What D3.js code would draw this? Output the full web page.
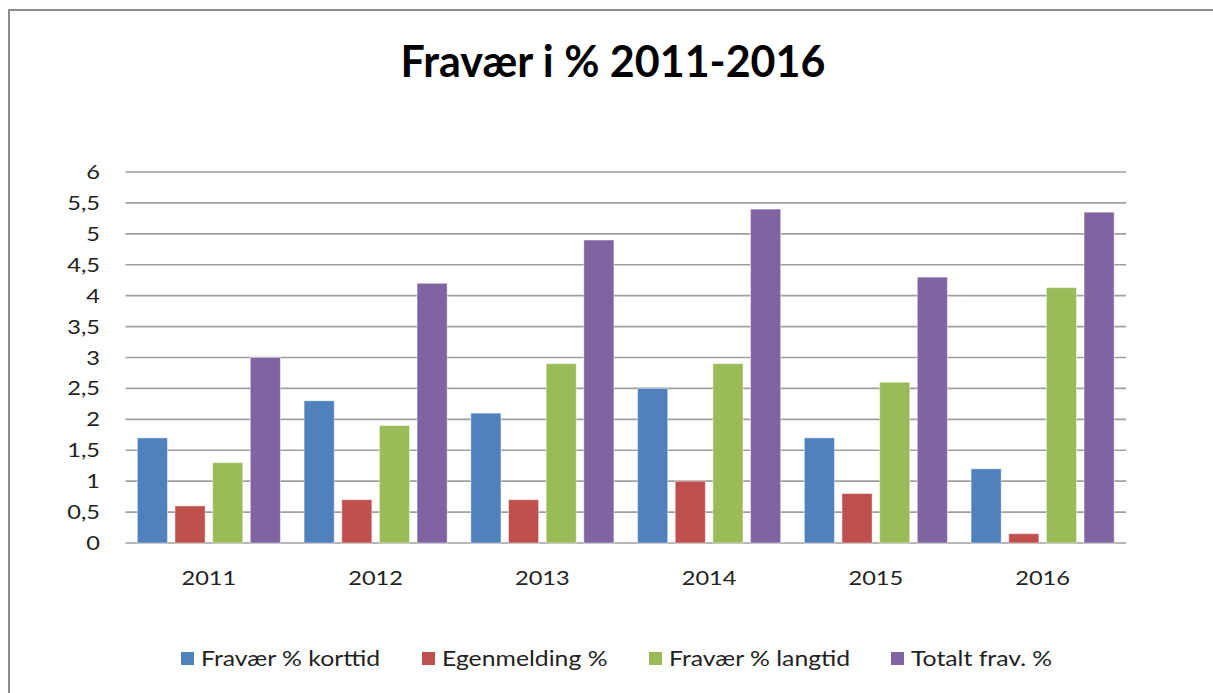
<!DOCTYPE html>
<html>
<head>
<meta charset="utf-8">
<script src="https://cdn.jsdelivr.net/npm/d3@7.9.0/dist/d3.min.js"></script>
<style>
  html, body { margin: 0; padding: 0; background: #fff; }
  svg { display: block; font-family: Lato, "Open Sans", sans-serif; }
</style>
</head>
<body>
<svg id="chart" width="1213" height="693"></svg>
<script>
// data
const years = ["2011", "2012", "2013", "2014", "2015", "2016"];
const seriesNames = ["Fravær % korttid", "Egenmelding %", "Fravær % langtid", "Totalt frav. %"];
const korttid = [1.7, 2.3, 2.1, 2.5, 1.7, 1.2];
const egenmelding = [0.6, 0.7, 0.7, 1.0, 0.8, 0.15];
const langtid = [1.3, 1.9, 2.9, 2.9, 2.6, 4.13];
const totalt = [3.0, 4.2, 4.9, 5.4, 4.3, 5.35];
const yTicks = [0, 0.5, 1, 1.5, 2, 2.5, 3, 3.5, 4, 4.5, 5, 5.5, 6];
const colors = ["#4F81BD", "#C0504D", "#9BBB59", "#8064A2"];

const seriesValues = [korttid, egenmelding, langtid, totalt];
const rows = years.map((yr, i) => ({ year: yr, values: seriesValues.map(s => s[i]) }));

const svg = d3.select("#chart");

// the source picture is a bit stretched sideways, so the text is too
const stretch = 1.18;
const placeText = (px, py) => `translate(${px},${py}) scale(${stretch},1)`;

// frame round the chart
svg.append("rect")
  .attr("x", 9).attr("y", 10)
  .attr("width", 1230).attr("height", 700)
  .attr("fill", "#fff")
  .attr("stroke", "#8c8c8c")
  .attr("stroke-width", 2);

// plot area
const plotLeft = 125.5, plotRight = 1126, plotTop = 172, plotBottom = 543;

const x0 = d3.scaleBand().domain(years).range([plotLeft, plotRight])
  .paddingInner(0.142).paddingOuter(0.071);
const x1 = d3.scaleBand().domain(d3.range(4)).range([0, x0.bandwidth()])
  .paddingInner(0.2);
const y = d3.scaleLinear().domain([0, 6]).range([plotBottom, plotTop]);

// gridlines
svg.append("g")
  .selectAll("line")
  .data(yTicks)
  .join("line")
  .attr("x1", plotLeft).attr("x2", plotRight)
  .attr("y1", d => y(d)).attr("y2", d => y(d))
  .attr("stroke", "#9f9f9f")
  .attr("stroke-width", 1.7);

// y tick labels
const fmt = d => String(d).replace(".", ",");
svg.append("g")
  .selectAll("text")
  .data(yTicks)
  .join("text")
  .attr("transform", d => placeText(100, y(d)))
  .attr("dy", "0.35em")
  .attr("text-anchor", "end")
  .attr("font-size", 20)
  .attr("fill", "#222")
  .text(fmt);

// bars
const groups = svg.append("g")
  .selectAll("g")
  .data(rows)
  .join("g")
  .attr("transform", d => `translate(${x0(d.year)},0)`);

groups.selectAll("rect")
  .data(d => d.values.map((v, i) => ({ i, v })))
  .join("rect")
  .attr("x", d => x1(d.i))
  .attr("width", x1.bandwidth())
  .attr("y", d => y(d.v))
  .attr("height", d => y(0) - y(d.v))
  .attr("fill", d => colors[d.i])
  .attr("stroke", "rgba(255,255,255,0.45)")
  .attr("stroke-width", 1);

// x labels
svg.append("g")
  .selectAll("text")
  .data(years)
  .join("text")
  .attr("transform", d => placeText(x0(d) + x0.bandwidth() / 2, 578))
  .attr("dy", "0.35em")
  .attr("text-anchor", "middle")
  .attr("font-size", 20)
  .attr("fill", "#222")
  .text(d => d);

// title
svg.append("text")
  .attr("x", 613)
  .attr("y", 62)
  .attr("dy", "0.35em")
  .attr("text-anchor", "middle")
  .attr("font-size", 43)
  .attr("font-weight", "bold")
  .attr("fill", "#000")
  .text("Fravær i % 2011-2016");

// legend
const legendX = [181, 422, 649, 891];
const legend = svg.append("g")
  .selectAll("g")
  .data(seriesNames)
  .join("g")
  .attr("transform", (d, i) => `translate(${legendX[i]},659)`);

legend.append("rect")
  .attr("x", 0).attr("y", -7)
  .attr("width", 13).attr("height", 13)
  .attr("fill", (d, i) => colors[i]);

legend.append("text")
  .attr("transform", placeText(20, 0))
  .attr("dy", "0.35em")
  .attr("font-size", 21)
  .attr("fill", "#222")
  .text(d => d);
</script>
</body>
</html>
